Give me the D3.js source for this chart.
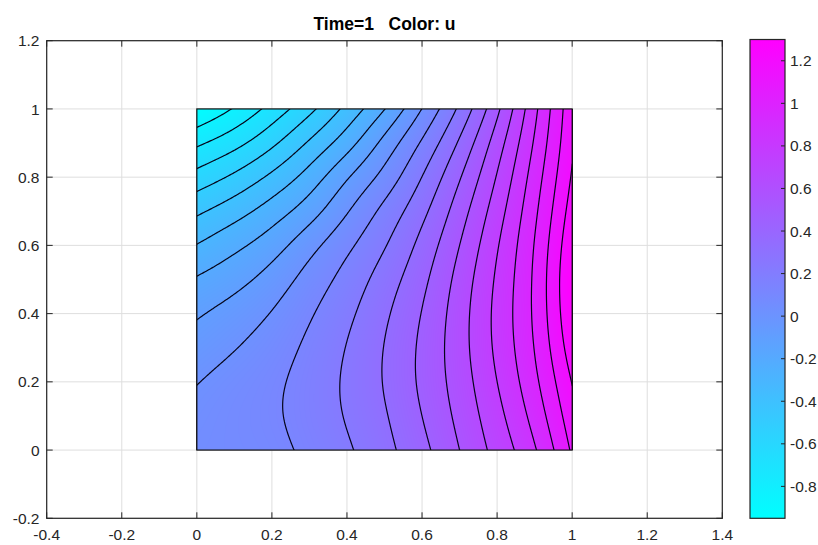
<!DOCTYPE html>
<html lang="en">
<head>
<meta charset="UTF-8">
<script src="https://d3js.org/d3.v7.min.js"></script>
<title>Time=1 Color: u</title>
<style>
  body { margin: 0; background: #fff; }
  text { font-family: "Liberation Sans", Arial, Helvetica, sans-serif; fill: #262626; }
</style>
</head>
<body>
<div id="chart"></div>
<script>
// mesh nodes of the unit square
var xNodes = [0, 0.1, 0.2, 0.3, 0.4, 0.5, 0.6, 0.7, 0.8, 0.9, 1];
var yNodes = [0, 0.1, 0.2, 0.3, 0.4, 0.5, 0.6, 0.7, 0.8, 0.9, 1];

// u at the nodes. first row is y = 1, last row is y = 0
var uRows = [
  [-0.950, -0.833, -0.697, -0.550, -0.383, -0.203, 0.016, 0.250, 0.526, 0.845, 1.161],
  [-0.756, -0.664, -0.544, -0.400, -0.245, -0.060, 0.135, 0.351, 0.604, 0.884, 1.177],
  [-0.588, -0.500, -0.391, -0.262, -0.104,  0.052, 0.230, 0.434, 0.665, 0.923, 1.204],
  [-0.434, -0.352, -0.256, -0.140,  0.006,  0.151, 0.307, 0.499, 0.715, 0.957, 1.241],
  [-0.303, -0.227, -0.141, -0.024,  0.097,  0.221, 0.369, 0.550, 0.755, 0.984, 1.279],
  [-0.190, -0.129, -0.049,  0.056,  0.160,  0.278, 0.415, 0.588, 0.781, 0.998, 1.300],
  [-0.105, -0.050,  0.020,  0.109,  0.204,  0.317, 0.447, 0.609, 0.793, 0.998, 1.289],
  [-0.045,  0.009,  0.069,  0.144,  0.233,  0.339, 0.464, 0.613, 0.787, 0.983, 1.252],
  [ 0.010,  0.055,  0.100,  0.163,  0.245,  0.342, 0.463, 0.601, 0.764, 0.954, 1.198],
  [ 0.041,  0.074,  0.107,  0.163,  0.237,  0.326, 0.443, 0.579, 0.731, 0.912, 1.150],
  [ 0.057,  0.073,  0.095,  0.145,  0.214,  0.304, 0.413, 0.550, 0.695, 0.861, 1.102]
];

var nLevels = 20;
var xTicks = [-0.4, -0.2, 0, 0.2, 0.4, 0.6, 0.8, 1, 1.2, 1.4];
var yTicks = [-0.2, 0, 0.2, 0.4, 0.6, 0.8, 1, 1.2];
var cbTicks = [-0.8, -0.6, -0.4, -0.2, 0, 0.2, 0.4, 0.6, 0.8, 1, 1.2];
var titleText = "Time=1   Color: u";

var W = 818, H = 545;
var axisCol = "#262626";

var svg = d3.select("#chart").append("svg")
    .attr("width", W).attr("height", H)
    .style("display", "block");

var x = d3.scaleLinear().domain([-0.4, 1.4]).range([46.7, 722.3]);
var y = d3.scaleLinear().domain([-0.2, 1.2]).range([518.3, 40.7]);

// rows with y going up
var grid = uRows.slice().reverse();
var uMin = d3.min(grid, function (r) { return d3.min(r); });
var uMax = d3.max(grid, function (r) { return d3.max(r); });
var color = d3.scaleLinear().domain([uMin, uMax])
    .range(["#00ffff", "#ff00ff"]).clamp(true);

// natural cubic spline through equally spaced values (unit step)
function naturalSpline(v) {
    var n = v.length, m = new Array(n).fill(0);
    var c = new Array(n).fill(0), d = new Array(n).fill(0);
    for (var i = 1; i < n - 1; i++) {
        var r = 6 * (v[i + 1] - 2 * v[i] + v[i - 1]);
        var den = 4 - (i > 1 ? c[i - 1] : 0);
        c[i] = 1 / den;
        d[i] = (r - (i > 1 ? d[i - 1] : 0)) / den;
    }
    for (i = n - 2; i >= 1; i--) m[i] = d[i] - c[i] * m[i + 1];
    return function (s) {
        var k = Math.max(0, Math.min(Math.floor(s), n - 2)), t = s - k, a = 1 - t;
        return a * v[k] + t * v[k + 1] + ((a * a * a - a) * m[k] + (t * t * t - t) * m[k + 1]) / 6;
    };
}
var rowSplines = grid.map(naturalSpline);

// u sampled on xs by ys, returned as out[j][i]
function sampleField(xs, ys) {
    var hx = xNodes[1] - xNodes[0], hy = yNodes[1] - yNodes[0];
    var out = ys.map(function () { return new Float64Array(xs.length); });
    xs.forEach(function (xv, i) {
        var s = (xv - xNodes[0]) / hx;
        var colSpline = naturalSpline(rowSplines.map(function (f) { return f(s); }));
        ys.forEach(function (yv, j) { out[j][i] = colSpline((yv - yNodes[0]) / hy); });
    });
    return out;
}

// grid lines
var gGrid = svg.append("g");
gGrid.selectAll(".gx").data(xTicks).enter().append("line")
    .attr("x1", function (d) { return x(d); }).attr("x2", function (d) { return x(d); })
    .attr("y1", y(-0.2)).attr("y2", y(1.2))
    .attr("stroke", "#dedede").attr("stroke-width", 1);
gGrid.selectAll(".gy").data(yTicks).enter().append("line")
    .attr("y1", function (d) { return y(d); }).attr("y2", function (d) { return y(d); })
    .attr("x1", x(-0.4)).attr("x2", x(1.4))
    .attr("stroke", "#dedede").attr("stroke-width", 1);

// shaded square
var x0 = x(xNodes[0]), x1 = x(xNodes[xNodes.length - 1]);
var yT = y(yNodes[yNodes.length - 1]), yB = y(yNodes[0]);
var cw = Math.round(x1 - x0), ch = Math.round(yB - yT);
var pxs = d3.range(cw).map(function (i) { return x.invert(x0 + (i + 0.5) * (x1 - x0) / cw); });
var pys = d3.range(ch).map(function (j) { return y.invert(yT + (j + 0.5) * (yB - yT) / ch); });
var shade = sampleField(pxs, pys);
var canvas = document.createElement("canvas");
canvas.width = cw; canvas.height = ch;
var ctx = canvas.getContext("2d");
var img = ctx.createImageData(cw, ch);
for (var j = 0; j < ch; j++) {
    for (var i = 0; i < cw; i++) {
        var c = d3.rgb(color(shade[j][i]));
        var k = (j * cw + i) * 4;
        img.data[k] = c.r; img.data[k + 1] = c.g; img.data[k + 2] = c.b; img.data[k + 3] = 255;
    }
}
ctx.putImageData(img, 0, 0);
svg.append("image")
    .attr("x", x0).attr("y", yT).attr("width", x1 - x0).attr("height", yB - yT)
    .attr("preserveAspectRatio", "none")
    .attr("href", canvas.toDataURL());

// contour lines
var N = 241;
var cxs = d3.range(N).map(function (i) { return i / (N - 1); });
var cys = d3.range(N).map(function (j) { return 1 - j / (N - 1); });
var cgrid = sampleField(cxs, cys);
var vals = [];
cgrid.forEach(function (row) { row.forEach(function (v) { vals.push(v); }); });
var thresholds = d3.range(1, nLevels + 1).map(function (k) {
    return uMin + k * (uMax - uMin) / (nLevels + 1);
});
var contours = d3.contours().size([N, N]).thresholds(thresholds)(vals);
var proj = d3.geoTransform({
    point: function (cx, cy) {
        this.stream.point(x((cx - 0.5) / (N - 1)), y(1 - (cy - 0.5) / (N - 1)));
    }
});
svg.append("clipPath").attr("id", "sq").append("rect")
    .attr("x", x0).attr("y", yT).attr("width", x1 - x0).attr("height", yB - yT);
svg.append("g").attr("clip-path", "url(#sq)")
    .selectAll("path").data(contours).enter().append("path")
    .attr("d", d3.geoPath(proj))
    .attr("fill", "none").attr("stroke", "#05051a").attr("stroke-width", 1.2);

// boundary of the square
svg.append("rect")
    .attr("x", x0).attr("y", yT).attr("width", x1 - x0).attr("height", yB - yT)
    .attr("fill", "none").attr("stroke", "#111").attr("stroke-width", 1.2);

// axes box and ticks
var tl = 6;
svg.append("rect")
    .attr("x", x(-0.4)).attr("y", y(1.2))
    .attr("width", x(1.4) - x(-0.4)).attr("height", y(-0.2) - y(1.2))
    .attr("fill", "none").attr("stroke", axisCol).attr("stroke-width", 1.2);
var gT = svg.append("g").attr("stroke", axisCol).attr("stroke-width", 1);
xTicks.forEach(function (d) {
    gT.append("line").attr("x1", x(d)).attr("x2", x(d)).attr("y1", y(-0.2)).attr("y2", y(-0.2) - tl);
    gT.append("line").attr("x1", x(d)).attr("x2", x(d)).attr("y1", y(1.2)).attr("y2", y(1.2) + tl);
});
yTicks.forEach(function (d) {
    gT.append("line").attr("y1", y(d)).attr("y2", y(d)).attr("x1", x(-0.4)).attr("x2", x(-0.4) + tl);
    gT.append("line").attr("y1", y(d)).attr("y2", y(d)).attr("x1", x(1.4)).attr("x2", x(1.4) - tl);
});

var fs = 15.5;
svg.selectAll(".xl").data(xTicks).enter().append("text")
    .attr("x", function (d) { return x(d); }).attr("y", 540)
    .attr("text-anchor", "middle").style("font-size", fs + "px")
    .text(function (d) { return String(d); });
svg.selectAll(".yl").data(yTicks).enter().append("text")
    .attr("x", 39.5).attr("y", function (d) { return y(d); })
    .attr("dy", "0.36em").attr("text-anchor", "end").style("font-size", fs + "px")
    .text(function (d) { return String(d); });

svg.append("text")
    .attr("x", (x(-0.4) + x(1.4)) / 2).attr("y", 29.5)
    .attr("text-anchor", "middle")
    .style("font-size", "17.5px").style("font-weight", "bold").style("white-space", "pre")
    .style("fill", "#000")
    .text(titleText);

// colorbar
var cb = { x: 750, w: 35, top: 39.5, bottom: 518.3 };
var yc = d3.scaleLinear().domain([uMin, uMax]).range([cb.bottom, cb.top]);
var grad = svg.append("defs").append("linearGradient").attr("id", "cool")
    .attr("x1", 0).attr("x2", 0).attr("y1", 1).attr("y2", 0);
grad.append("stop").attr("offset", 0).attr("stop-color", color(uMin));
grad.append("stop").attr("offset", 1).attr("stop-color", color(uMax));
svg.append("rect")
    .attr("x", cb.x).attr("y", cb.top).attr("width", cb.w).attr("height", cb.bottom - cb.top)
    .attr("fill", "url(#cool)").attr("stroke", axisCol).attr("stroke-width", 1.2);
svg.append("g").selectAll("line").data(cbTicks).enter().append("line")
    .attr("x1", cb.x + cb.w).attr("x2", cb.x + cb.w - 4)
    .attr("y1", function (d) { return yc(d); }).attr("y2", function (d) { return yc(d); })
    .attr("stroke", axisCol).attr("stroke-width", 1);
svg.selectAll(".cl").data(cbTicks).enter().append("text")
    .attr("x", cb.x + cb.w + 5).attr("y", function (d) { return yc(d); })
    .attr("dy", "0.36em").style("font-size", fs + "px")
    .text(function (d) { return String(d); });
</script>
</body>
</html>
